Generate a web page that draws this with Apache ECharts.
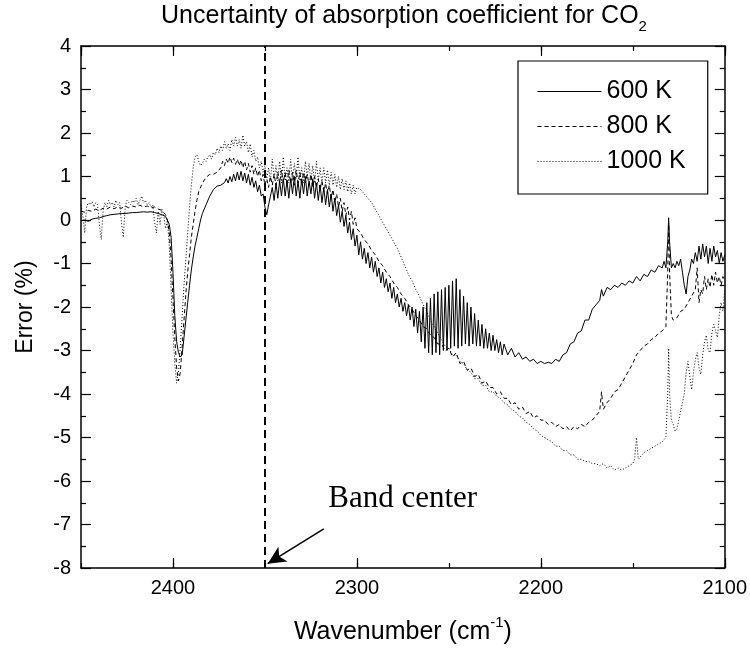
<!DOCTYPE html>
<html><head><meta charset="utf-8">
<script src="https://cdn.jsdelivr.net/npm/echarts@6/dist/echarts.min.js"></script>
<style>html,body{margin:0;padding:0;background:#fff}#c{width:750px;height:650px}</style>
</head><body><div id="c"></div>
<script>
// ---- data (wavenumber cm^-1, error %) ----
const seriesNames = ['600 K', '800 K', '1000 K'];

const k600 = [
[2450,-0.02],[2448,0.0],[2446,-0.03],[2444,0.02],[2442,0.04],[2440,0.05],[2438,0.08],[2436,0.1],[2434,0.12],[2432,0.13],[2430,0.14],[2428,0.15],[2426,0.15],[2424,0.16],[2422,0.17],[2420,0.17],[2418,0.18],[2416,0.19],[2414,0.18],[2412,0.19],[2410,0.17],[2408,0.15],[2406,0.12],[2404,0.08],[2402,-0.1],[2401,-0.4],[2400,-1.2],[2399,-2.2],[2398,-2.8],[2397,-3.05],[2396,-3.15],[2395,-3.1],[2394,-2.7],[2393,-2.3],[2392,-1.9],[2391,-1.5],[2390,-1.15],[2389,-0.85],[2388,-0.6],[2387,-0.4],[2386,-0.2],[2385,0.0],[2384,0.15],[2382,0.35],[2380,0.55],[2378,0.7],[2376,0.78],[2374,0.8],[2372,0.86],[2371,0.95],[2370,0.85],[2369,1.0],[2368,0.88],[2367,1.05],[2366,0.9],[2365,1.1],[2364,0.92],[2363,1.12],[2362,0.9],[2361,1.08],[2360,0.85],[2359,1.05],[2358,0.8],[2357,0.98],[2356,0.75],[2355,0.9],[2354,0.65],[2353,0.8],[2352,0.55],[2351,0.6],[2350,0.3],[2349,0.12],[2348,0.35],[2347,0.55],[2346,0.75],[2345,0.45],[2344,0.85],[2343,0.5],[2342,0.9],[2341,0.55],[2340,0.95],[2339,0.55],[2338,0.9],[2337,0.5],[2336,0.95],[2335,0.6],[2334,1.0],[2333,0.55],[2332,0.9],[2331,0.5],[2330,0.95],[2329,0.6],[2328,1.0],[2327,0.55],[2326,0.9],[2325,0.6],[2324,0.95],[2323,0.5],[2322,0.85],[2321,0.45],[2320,0.8],[2319,0.4],[2318,0.75],[2317,0.35],[2316,0.7],[2315,0.3],[2314,0.6],[2313,0.2],[2312,0.5],[2311,0.1],[2310,0.35],[2309,-0.05],[2308,0.2],[2307,-0.15],[2306,0.1],[2305,-0.3],[2304,-0.05],[2303,-0.45],[2302,-0.2],[2301,-0.6],[2300,-0.35],[2299,-0.8],[2298,-0.5],[2297,-0.9],[2296,-0.65],[2295,-1.0],[2294,-0.75],[2293,-1.1],[2292,-0.85],[2291,-1.2],[2290,-0.95],[2289,-1.3],[2288,-1.1],[2287,-1.45],[2286,-1.2],[2285,-1.55],[2284,-1.35],[2283,-1.65],[2282,-1.45],[2281,-1.8],[2280,-1.55],[2279,-1.9],[2278,-1.7],[2277,-2.0],[2276,-1.8],[2275,-2.1],[2274,-1.9],[2273,-2.2],[2272,-1.95],[2271,-2.3],[2270,-2.0],[2269,-2.45],[2268,-2.05],[2267,-2.6],[2266,-2.1],[2265,-2.8],[2264,-2.0],[2263,-2.95],[2262,-1.9],[2261,-3.05],[2260,-1.8],[2259,-3.1],[2258,-1.7],[2257,-3.05],[2256,-1.65],[2255,-3.1],[2254,-1.6],[2253,-3.0],[2252,-1.55],[2251,-3.0],[2250,-1.5],[2249,-2.95],[2248,-1.4],[2247,-2.9],[2246,-1.35],[2245,-2.95],[2244,-1.6],[2243,-2.9],[2242,-1.75],[2241,-2.85],[2240,-1.9],[2239,-2.9],[2238,-2.0],[2237,-2.85],[2236,-2.15],[2235,-2.9],[2234,-2.3],[2233,-2.9],[2232,-2.4],[2231,-2.95],[2230,-2.5],[2229,-2.95],[2228,-2.6],[2227,-3.0],[2226,-2.65],[2225,-3.0],[2224,-2.75],[2223,-3.05],[2222,-2.8],[2221,-3.1],[2220,-2.85],[2218,-3.1],[2216,-2.95],[2214,-3.15],[2212,-3.05],[2210,-3.2],[2208,-3.15],[2206,-3.25],[2204,-3.2],[2202,-3.3],[2200,-3.25],[2198,-3.3],[2196,-3.27],[2194,-3.3],[2192,-3.2],[2190,-3.25],[2188,-3.1],[2186,-3.05],[2184,-2.85],[2182,-2.8],[2180,-2.6],[2178,-2.55],[2176,-2.3],[2174,-2.3],[2172,-2.05],[2170,-1.95],[2168,-1.85],[2167,-1.6],[2166,-1.75],[2164,-1.55],[2162,-1.6],[2160,-1.5],[2158,-1.55],[2156,-1.45],[2154,-1.5],[2152,-1.4],[2150,-1.45],[2148,-1.3],[2146,-1.4],[2144,-1.25],[2142,-1.3],[2140,-1.15],[2138,-1.2],[2136,-1.05],[2134,-1.1],[2133,-0.95],[2132,-1.1],[2131,-0.5],[2130.5,0.05],[2130,-0.5],[2129,-1.1],[2128,-1.0],[2127,-1.1],[2126,-0.95],[2125,-1.05],[2124,-0.9],[2123,-1.2],[2122,-1.5],[2121,-1.7],[2120,-1.3],[2119,-1.15],[2118,-0.9],[2117,-1.0],[2116,-0.75],[2115,-0.95],[2114,-0.6],[2113,-0.9],[2112,-0.55],[2111,-0.85],[2110,-0.6],[2109,-1.0],[2108,-0.65],[2107,-0.95],[2106,-0.6],[2105,-0.85],[2104,-0.7],[2103,-1.0],[2102,-0.75],[2101,-0.95],[2100,-0.8]
];

const k800 = [
[2450,0.2],[2448,0.18],[2446,0.22],[2444,0.2],[2442,0.25],[2440,0.22],[2438,0.27],[2436,0.25],[2434,0.3],[2432,0.26],[2430,0.3],[2428,0.27],[2426,0.32],[2424,0.28],[2422,0.32],[2420,0.3],[2418,0.34],[2416,0.3],[2414,0.32],[2412,0.28],[2410,0.3],[2408,0.25],[2406,0.22],[2404,0.12],[2403,0.0],[2402,-0.3],[2401,-0.9],[2400,-1.8],[2399,-2.7],[2398,-3.4],[2397,-3.7],[2396,-3.5],[2395,-2.9],[2394,-2.3],[2393,-1.7],[2392,-1.2],[2391,-0.8],[2390,-0.4],[2389,-0.1],[2388,0.2],[2387,0.45],[2386,0.65],[2384,0.85],[2382,0.98],[2380,1.05],[2378,1.05],[2376,1.1],[2374,1.2],[2373,1.35],[2372,1.25],[2371,1.4],[2370,1.3],[2369,1.45],[2368,1.32],[2367,1.42],[2366,1.28],[2365,1.4],[2364,1.25],[2363,1.38],[2362,1.2],[2361,1.35],[2360,1.15],[2359,1.3],[2358,1.1],[2357,1.25],[2356,1.05],[2355,1.2],[2354,1.0],[2353,1.15],[2352,0.9],[2351,1.05],[2350,0.8],[2349,0.95],[2348,0.75],[2347,1.0],[2346,0.8],[2345,1.05],[2344,0.8],[2343,1.1],[2342,0.85],[2341,1.15],[2340,0.85],[2339,1.1],[2338,0.8],[2337,1.15],[2336,0.85],[2335,1.1],[2334,0.8],[2333,1.15],[2332,0.85],[2331,1.1],[2330,0.8],[2329,1.1],[2328,0.85],[2327,1.05],[2326,0.8],[2325,1.05],[2324,0.75],[2323,1.0],[2322,0.75],[2321,0.95],[2320,0.7],[2319,0.9],[2318,0.65],[2317,0.85],[2316,0.6],[2315,0.8],[2314,0.5],[2313,0.7],[2312,0.4],[2311,0.6],[2310,0.3],[2309,0.5],[2308,0.2],[2307,0.4],[2306,0.1],[2305,0.3],[2304,0.0],[2303,0.2],[2302,-0.1],[2301,0.05],[2300,-0.2],[2298,-0.3],[2296,-0.45],[2294,-0.55],[2292,-0.7],[2290,-0.8],[2288,-0.95],[2286,-1.05],[2284,-1.2],[2282,-1.3],[2280,-1.45],[2278,-1.55],[2276,-1.7],[2274,-1.8],[2272,-1.95],[2270,-2.05],[2268,-2.2],[2266,-2.3],[2264,-2.45],[2262,-2.5],[2260,-2.65],[2258,-2.7],[2256,-2.85],[2254,-2.85],[2252,-3.0],[2250,-2.95],[2248,-3.15],[2246,-3.05],[2244,-3.3],[2242,-3.25],[2240,-3.45],[2238,-3.4],[2236,-3.6],[2234,-3.55],[2232,-3.75],[2230,-3.7],[2228,-3.85],[2226,-3.85],[2224,-4.0],[2222,-3.95],[2220,-4.1],[2218,-4.1],[2216,-4.25],[2214,-4.2],[2212,-4.35],[2210,-4.3],[2208,-4.45],[2206,-4.4],[2204,-4.55],[2202,-4.5],[2200,-4.6],[2198,-4.6],[2196,-4.7],[2194,-4.65],[2192,-4.75],[2190,-4.7],[2188,-4.8],[2186,-4.75],[2184,-4.85],[2182,-4.75],[2180,-4.8],[2178,-4.7],[2176,-4.75],[2174,-4.65],[2172,-4.6],[2170,-4.5],[2168,-4.4],[2167,-3.95],[2166,-4.35],[2164,-4.2],[2162,-4.1],[2160,-3.95],[2158,-3.9],[2156,-3.75],[2154,-3.6],[2152,-3.45],[2150,-3.3],[2148,-3.1],[2146,-3.0],[2144,-2.9],[2142,-2.85],[2140,-2.75],[2138,-2.7],[2136,-2.6],[2134,-2.55],[2132,-2.45],[2131,-1.2],[2130.5,-0.1],[2130,-1.2],[2129,-2.2],[2128,-2.3],[2126,-2.25],[2124,-2.1],[2122,-2.05],[2120,-1.9],[2118,-1.75],[2116,-1.6],[2115,-1.1],[2114,-1.9],[2113,-1.6],[2112,-1.7],[2111,-1.3],[2110,-1.6],[2109,-1.35],[2108,-1.55],[2107,-1.25],[2106,-1.5],[2105,-1.2],[2104,-1.45],[2103,-1.3],[2102,-1.5],[2101,-1.3],[2100,-1.4]
];

const k1000 = [
[2450,0.35],[2449,0.1],[2448,-0.3],[2447,0.3],[2446,0.4],[2445,0.35],[2444,0.42],[2443,0.3],[2442,0.4],[2441,0.35],[2440,-0.1],[2439,-0.45],[2438,0.2],[2437,0.4],[2436,0.3],[2435,0.45],[2434,0.35],[2433,0.4],[2432,0.3],[2431,0.45],[2430,0.35],[2429,0.4],[2428,-0.05],[2427,-0.4],[2426,0.3],[2425,0.45],[2424,0.4],[2423,0.35],[2422,0.45],[2421,0.4],[2420,0.5],[2419,0.35],[2418,0.45],[2417,0.55],[2416,0.4],[2415,0.45],[2414,0.35],[2413,0.4],[2412,0.3],[2411,0.35],[2410,-0.05],[2409,-0.3],[2408,0.2],[2407,-0.1],[2406,0.25],[2405,0.1],[2404,-0.2],[2403,0.0],[2402,-0.6],[2401,-1.6],[2400,-2.6],[2399,-3.3],[2398,-3.75],[2397,-3.5],[2396,-2.9],[2395,-2.2],[2394,-1.5],[2393,-0.9],[2392,-0.3],[2391,0.3],[2390,0.8],[2389,1.2],[2388,1.45],[2387,1.5],[2386,1.35],[2385,1.25],[2384,1.3],[2383,1.4],[2382,1.35],[2381,1.45],[2380,1.5],[2379,1.4],[2378,1.55],[2377,1.5],[2376,1.65],[2375,1.55],[2374,1.7],[2373,1.6],[2372,1.8],[2371,1.65],[2370,1.75],[2369,1.6],[2368,1.85],[2367,1.7],[2366,1.9],[2365,1.7],[2364,1.85],[2363,1.65],[2362,1.95],[2361,1.7],[2360,1.8],[2359,1.55],[2358,1.75],[2357,1.45],[2356,1.6],[2355,1.35],[2354,1.45],[2353,1.2],[2352,1.35],[2351,1.1],[2350,1.25],[2349,0.95],[2348,1.2],[2347,0.9],[2346,1.4],[2345,0.95],[2344,1.25],[2343,0.9],[2342,1.35],[2341,0.85],[2340,1.45],[2339,0.9],[2338,1.2],[2337,0.85],[2336,1.4],[2335,0.9],[2334,1.3],[2333,0.95],[2332,1.45],[2331,0.9],[2330,1.2],[2329,0.85],[2328,1.35],[2327,1.0],[2326,1.3],[2325,0.9],[2324,1.25],[2323,0.85],[2322,1.35],[2321,0.9],[2320,1.2],[2319,0.85],[2318,1.2],[2317,0.85],[2316,1.15],[2315,0.8],[2314,1.1],[2313,0.8],[2312,1.05],[2311,0.75],[2310,1.0],[2309,0.7],[2308,0.95],[2307,0.7],[2306,0.9],[2305,0.65],[2304,0.85],[2303,0.6],[2302,0.8],[2301,0.6],[2300,0.75],[2298,0.7],[2296,0.6],[2294,0.5],[2292,0.4],[2290,0.25],[2288,0.1],[2286,-0.05],[2284,-0.2],[2282,-0.35],[2280,-0.5],[2278,-0.65],[2276,-0.85],[2274,-1.05],[2272,-1.25],[2270,-1.4],[2268,-1.6],[2266,-1.75],[2264,-1.95],[2262,-2.1],[2260,-2.3],[2258,-2.45],[2256,-2.6],[2254,-2.75],[2252,-2.9],[2250,-2.95],[2248,-3.1],[2246,-3.1],[2244,-3.25],[2242,-3.3],[2240,-3.45],[2238,-3.5],[2236,-3.65],[2234,-3.65],[2232,-3.8],[2230,-3.8],[2228,-3.95],[2226,-3.95],[2224,-4.05],[2222,-4.1],[2220,-4.2],[2218,-4.25],[2216,-4.35],[2214,-4.4],[2212,-4.5],[2210,-4.55],[2208,-4.65],[2206,-4.7],[2204,-4.8],[2202,-4.85],[2200,-4.95],[2198,-5.0],[2196,-5.05],[2194,-5.1],[2192,-5.2],[2190,-5.2],[2188,-5.3],[2186,-5.3],[2184,-5.4],[2182,-5.4],[2180,-5.5],[2178,-5.5],[2176,-5.55],[2174,-5.55],[2172,-5.6],[2170,-5.6],[2168,-5.65],[2166,-5.6],[2164,-5.7],[2162,-5.65],[2160,-5.75],[2158,-5.7],[2156,-5.75],[2154,-5.7],[2152,-5.65],[2150,-5.6],[2149,-5.5],[2148,-5.0],[2147,-5.5],[2146,-5.45],[2144,-5.35],[2142,-5.3],[2140,-5.25],[2138,-5.2],[2136,-5.15],[2134,-5.1],[2132,-5.0],[2131,-4.0],[2130.5,-2.95],[2130,-4.0],[2129,-4.6],[2128,-4.7],[2127,-4.85],[2126,-4.8],[2125,-4.6],[2124,-4.4],[2123,-4.2],[2122,-4.0],[2121,-3.5],[2120,-3.25],[2119,-3.6],[2118,-3.9],[2117,-3.5],[2116,-3.2],[2115,-3.05],[2114,-3.4],[2113,-3.55],[2112,-3.1],[2111,-2.8],[2110,-2.65],[2109,-3.0],[2108,-3.05],[2107,-2.6],[2106,-2.4],[2105,-2.55],[2104,-2.7],[2103,-2.2],[2102,-1.9],[2101,-2.1],[2100,-1.6]
];

// annotation values (data space)
const bandCenter = 2350;
const arrowFrom = [2318, -7.1];
const arrowTo = [2348.5, -7.9];
const labelAt = [2318, -6.4];

// axis ranges
const xRange = [2100, 2450];
const yRange = [-8, 4];

// ---- chart ----
const sans = 'Liberation Sans, Arial, sans-serif';
const chart = echarts.init(document.getElementById('c'));
const blk = '#000';
function xAx(pos, interval, len, showLine, showLabel, extra) {
  return Object.assign({
    type: 'value', position: pos, inverse: true, min: xRange[0], max: xRange[1], interval: interval,
    axisLine: { show: showLine, onZero: false, lineStyle: { color: blk, width: 1.5 } },
    axisTick: { show: true, inside: true, length: len, lineStyle: { color: blk, width: 1.2 } },
    axisLabel: { show: showLabel, color: blk, fontSize: 20, fontFamily: sans, margin: 10, showMaxLabel: false,
      formatter: v => String(v) },
    splitLine: { show: false }
  }, extra || {});
}
function yAx(pos, showLabel, extra) {
  return Object.assign({
    type: 'value', position: pos, min: yRange[0], max: yRange[1], interval: 1,
    axisLine: { show: true, onZero: false, lineStyle: { color: blk, width: 1.5 } },
    axisTick: { show: true, inside: true, length: 10, lineStyle: { color: blk, width: 1.2 } },
    minorTick: { show: true, splitNumber: 2, length: 5, lineStyle: { color: blk, width: 1.2 } },
    axisLabel: { show: showLabel, color: blk, fontSize: 20, fontFamily: sans, margin: 10 },
    splitLine: { show: false }
  }, extra || {});
}

const lineTypes = ['solid', [4, 3], [1, 2]];
const datasets = [k600, k800, k1000];

const series = datasets.map((d, i) => ({
  name: seriesNames[i], type: 'line', data: d, xAxisIndex: 0, yAxisIndex: 0,
  showSymbol: false, symbol: 'none', smooth: false, animation: false,
  lineStyle: { color: blk, width: 1, type: lineTypes[i] },
  itemStyle: { color: blk }
}));

series[0].markLine = {
  silent: true, animation: false, symbol: ['none', 'none'], label: { show: false },
  data: [
    { xAxis: bandCenter, lineStyle: { color: blk, width: 2, type: [8, 5] } },
    [ { coord: arrowFrom, symbol: 'none', lineStyle: { color: blk, width: 1.5, type: 'solid' } },
      { coord: arrowTo, symbol: 'arrow', symbolSize: [13, 18] } ]
  ]
};
series[0].markPoint = {
  silent: true, animation: false,
  data: [{
    coord: labelAt, symbol: 'circle', symbolSize: 1, itemStyle: { color: 'rgba(0,0,0,0)' },
    label: { show: true, formatter: 'Band center', position: 'right', distance: 4,
      color: blk, fontSize: 31, fontFamily: 'Liberation Serif, Times New Roman, serif' }
  }]
};

chart.setOption({
  backgroundColor: '#fff',
  animation: false,
  grid: { left: 81, right: 22, top: 46, bottom: 80, containLabel: false },
  graphic: [{
    type: 'text', x: 404, y: 19, silent: true,
    style: {
      text: '{a|Uncertainty of absorption coefficient for CO}{s|2}',
      align: 'center', verticalAlign: 'middle', fill: blk,
      rich: {
        a: { fontSize: 25, fontFamily: sans, lineHeight: 30, verticalAlign: 'top', fill: blk },
        s: { fontSize: 15, fontFamily: sans, lineHeight: 15, verticalAlign: 'bottom', fill: blk }
      }
    }
  }],
  legend: {
    orient: 'vertical', left: 518, top: 61,
    borderColor: blk, borderWidth: 1.2, borderRadius: 0,
    padding: [18, 22, 20, 19],
    itemWidth: 64, itemHeight: 20, itemGap: 10,
    itemStyle: { opacity: 0 },
    lineStyle: { width: 1 },
    textStyle: { color: blk, fontSize: 25, fontFamily: sans, lineHeight: 20 },
    data: seriesNames
  },
  xAxis: [
    xAx('bottom', 100, 10, true, true, {
      name: '{a|Wavenumber (cm}{p|-1}{a|)}', nameLocation: 'middle', nameGap: 47,
      nameTextStyle: { rich: {
        a: { fontSize: 25, fontFamily: sans, color: blk, lineHeight: 30, verticalAlign: 'bottom' },
        p: { fontSize: 15, fontFamily: sans, color: blk, lineHeight: 15, verticalAlign: 'top' }
      } }
    }),
    xAx('bottom', 50, 5, false, false),
    xAx('top', 100, 10, true, false),
    xAx('top', 50, 5, false, false)
  ],
  yAxis: [
    yAx('left', true, {
      name: 'Error (%)', nameLocation: 'middle', nameGap: 44,
      nameTextStyle: { fontSize: 23, fontFamily: sans, color: blk }
    }),
    yAx('right', false)
  ],
  series: series
});
</script></body></html>
